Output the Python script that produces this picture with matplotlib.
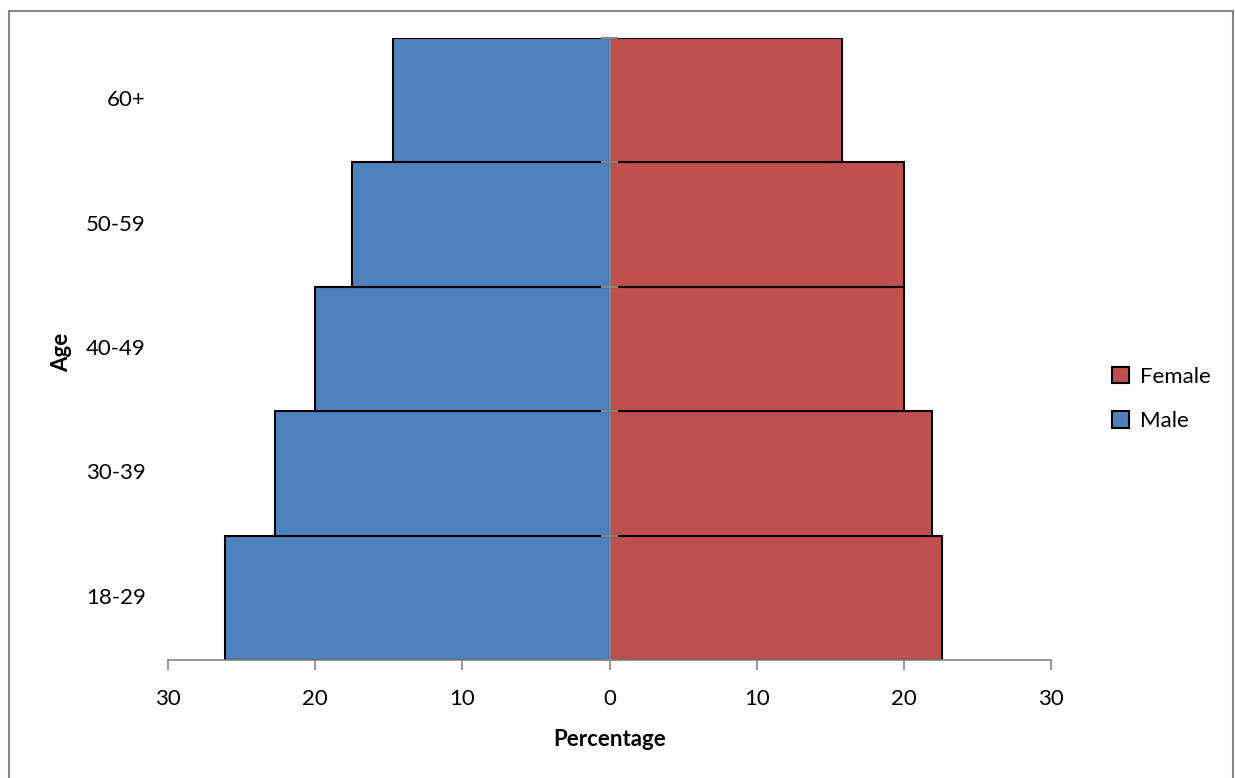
import matplotlib
matplotlib.use('Agg')
import matplotlib.pyplot as plt
from matplotlib.patches import Rectangle
import numpy as np

ages = ['18-29', '30-39', '40-49', '50-59', '60+']
male = [26.1, 22.7, 20.0, 17.5, 14.7]
female = [22.6, 21.9, 20.0, 20.0, 15.8]
ticks = [-30, -20, -10, 0, 10, 20, 30]
tick_labels = ['30', '20', '10', '0', '10', '20', '30']

plt.rcParams['font.family'] = ['Lato', 'DejaVu Sans']

fig = plt.figure(figsize=(12.35, 7.78), dpi=100)
ax = fig.add_axes([168/1235, 118/778, (1051-168)/1235, (660-38)/778])

y = np.arange(len(ages))
ax.barh(y, -np.array(male), height=1.0, color='#4f81bd', edgecolor='black', linewidth=1.5, label='Male')
ax.barh(y, female, height=1.0, color='#c0504d', edgecolor='black', linewidth=1.5, label='Female')

ax.set_xlim(-30, 30)
ax.set_ylim(-0.5, len(ages) - 0.5)
ax.set_xticks(ticks)
ax.set_xticklabels(tick_labels, fontsize=16)
ax.tick_params(axis='x', length=7, width=1.2, color='#868686', pad=14)

# category labels at left, gray axis line at zero
ax.set_yticks([])
for i, a in enumerate(ages):
    ax.text(-31.5, i, a, ha='right', va='center', fontsize=16)
ax.axvline(0, color='#868686', linewidth=1.5)
for b in np.arange(-0.5, len(ages)):
    ax.plot([-0.5, 0.5], [b, b], color='#868686', linewidth=1.5, clip_on=False)

for s in ['top', 'right', 'left']:
    ax.spines[s].set_visible(False)
ax.spines['bottom'].set_color('#868686')
ax.spines['bottom'].set_linewidth(1.2)

ax.set_xlabel('Percentage', fontsize=16, fontweight='bold', labelpad=14)
fig.text(62/1235, 1 - 352/778, 'Age', rotation=90, fontsize=16, fontweight='bold', ha='center', va='center')

h, l = ax.get_legend_handles_labels()
fig.legend(h[::-1], l[::-1], loc='center left', bbox_to_anchor=(1092/1235, 1 - 399/778),
           frameon=False, fontsize=16, handlelength=0.75, handleheight=0.75, handletextpad=0.5,
           labelspacing=1.1)

fig.patches.append(Rectangle((9/1235, -0.02), 1224/1235, 1.02 - 11/778, transform=fig.transFigure,
                             fill=False, edgecolor='#868686', linewidth=1.5))

fig.savefig('out.png', dpi=100)
